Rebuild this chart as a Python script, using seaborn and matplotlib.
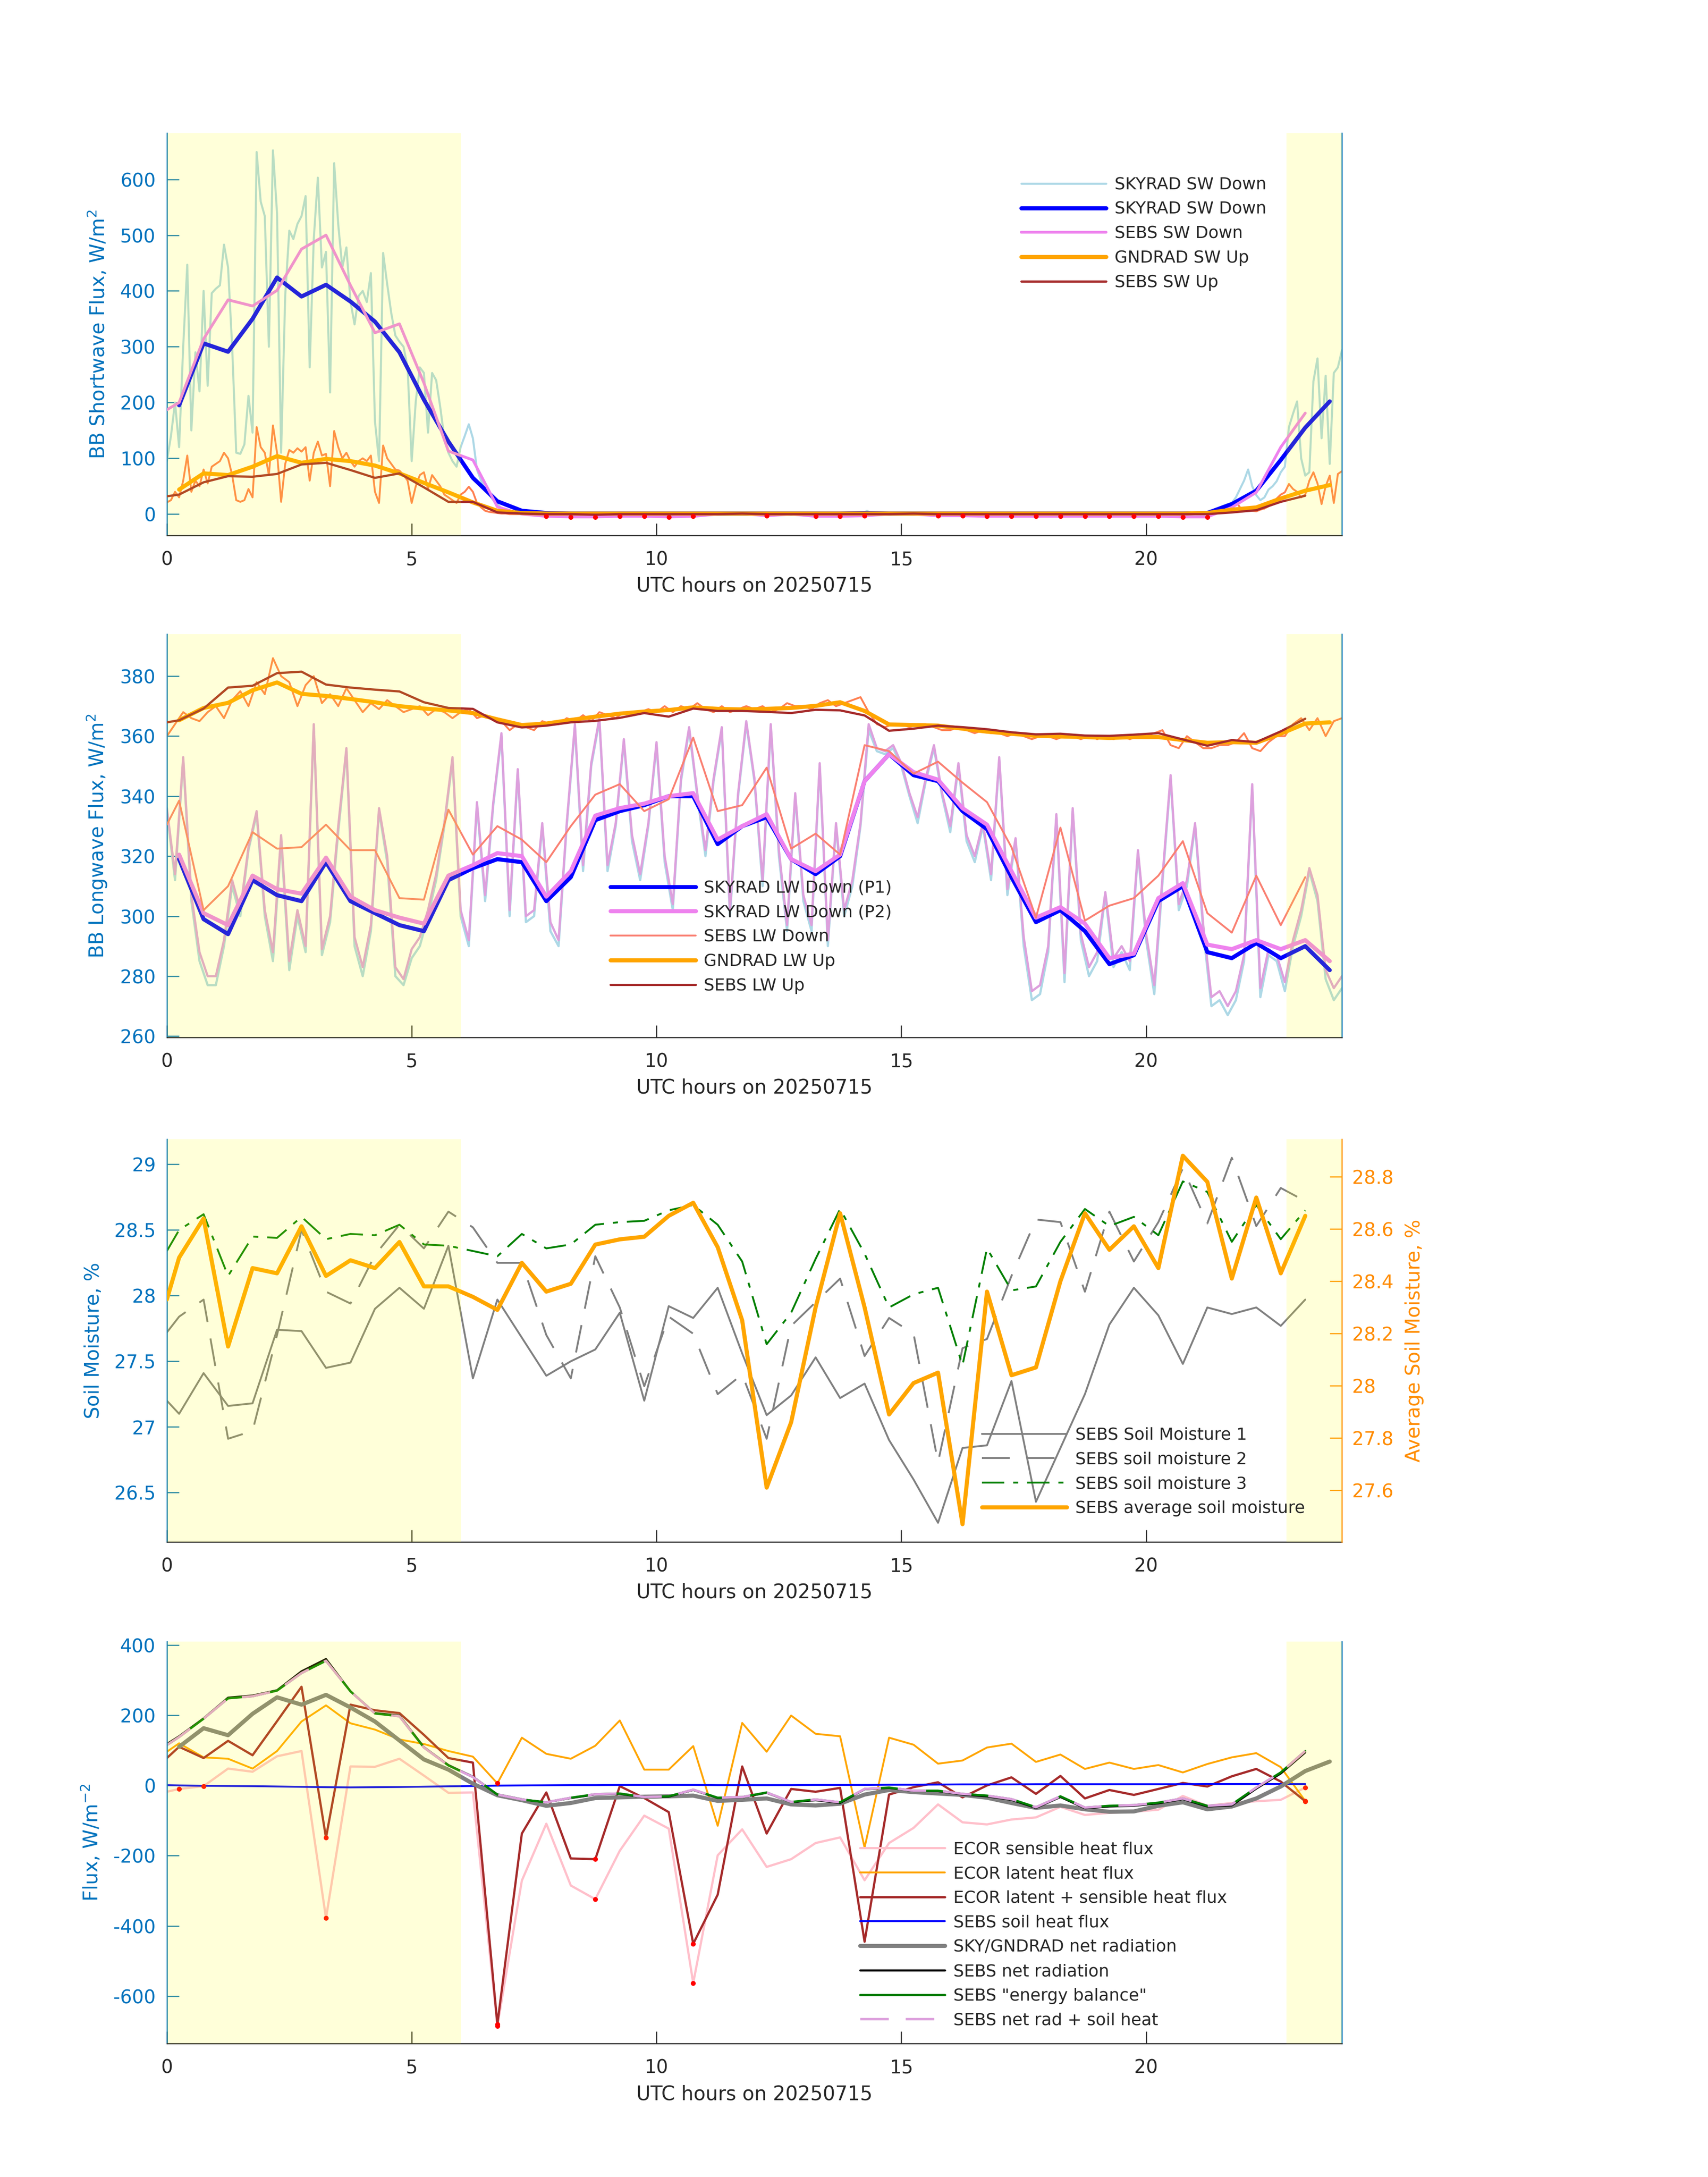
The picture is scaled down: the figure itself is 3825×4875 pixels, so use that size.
import numpy as np
import pandas as pd
import matplotlib
matplotlib.use('Agg')
import matplotlib.pyplot as plt
from matplotlib.ticker import FuncFormatter
import seaborn as sns

sns.set_style('white')
plt.rcParams['font.family'] = ['DejaVu Sans']
plt.rcParams['axes.unicode_minus'] = False
plt.rcParams['mathtext.fontset'] = 'dejavusans'

AX_BLUE = '#0072BD'
DARK = '#262626'
ORANGE_AX = '#ff8c00'
SHADE = [(0, 6), (22.87, 24)]
XLABEL = 'UTC hours on 20250715'

# sampling grids
t_half = np.arange(0.25, 24, 0.5)                  # 0.25 ... 23.75
t_sebs = np.r_[0, np.arange(0.25, 23.5, 0.5)]      # 0, 0.25 ... 23.25
t_am = np.linspace(0, 7, 85)                       # 5 min, morning
t_pm = np.linspace(21, 24, 37)                     # 5 min, evening
t_10 = np.linspace(0, 24, 145)                     # 10 min

# ---------------- panel 1 : shortwave ----------------
sky_sw_am = [95, 140, 200, 120, 300, 447, 150, 290, 220, 400, 230, 396,
             404, 410, 483, 442, 300, 110, 108, 125, 212, 146, 649, 560,
             534, 300, 652, 539, 110, 391, 508, 493, 520, 534, 570, 263,
             493, 603, 442, 470, 218, 629, 519, 442, 478, 381, 340, 391,
             400, 380, 432, 166, 95, 468, 412, 360, 320, 309, 300, 263,
             95, 202, 263, 253, 146, 253, 240, 192, 136, 110, 95, 85,
             120, 140, 161, 136, 80, 60, 45, 34, 25, 18, 11, 6,
             3]
night_t = [7.5, 9, 11, 12.5, 14.2, 14.3, 14.4, 16, 18, 20, 20.9]
sky_sw_night = [1, 0, 1, 1, 1, 6, 1, 0, 0, 0, 0]
sky_sw_pm = [0, 1, 2, 4, 6, 8, 12, 15, 18, 20, 30, 45,
             60, 80, 50, 34, 25, 30, 44, 50, 59, 75, 85, 156,
             180, 202, 100, 69, 75, 238, 279, 136, 248, 90, 253, 263,
             294]
gnd_sw_am = [21, 25, 40, 30, 60, 105, 40, 60, 50, 80, 55, 85,
             90, 95, 110, 100, 70, 25, 22, 25, 45, 30, 156, 120,
             110, 70, 159, 110, 22, 90, 115, 110, 118, 112, 120, 60,
             110, 130, 105, 108, 50, 149, 120, 100, 110, 95, 85, 95,
             100, 95, 105, 40, 20, 123, 100, 90, 80, 78, 70, 60,
             20, 50, 70, 75, 45, 70, 60, 50, 35, 30, 25, 20,
             35, 40, 49, 40, 20, 12, 6, 4, 3, 2, 1, 1,
             0]
gnd_sw_night = [0, 0, 0, 0, 0, 1, 0, 0, 0, 0, 0]
gnd_sw_pm = [0, 0, 1, 1, 2, 2, 3, 4, 8, 15, 23, 12,
             10, 8, 6, 5, 8, 10, 14, 20, 28, 35, 39, 54,
             45, 40, 30, 35, 60, 75, 55, 18, 50, 69, 20, 72,
             77]
sky_sw_30 = [195, 306, 291, 350, 424, 390, 411, 381,
             345, 290, 205, 130, 65, 23, 6, 2,
             1, 1, 1, 1, 1, 1, 1, 1,
             1, 1, 1, 1, 2, 1, 1, 1,
             1, 1, 1, 1, 1, 1, 1, 1,
             1, 1, 2, 18, 42, 97, 155, 202]
sebs_sw_dn = [187,
              200, 314, 384, 373, 401, 475, 500, 410,
              325, 341, 235, 113, 97, 13, 0, -4,
              -5, -5, -4, -4, -5, -4, 0, 1,
              -3, 0, -4, -4, -3, 0, 0, -3,
              -3, -4, -4, -4, -4, -4, -4, -4,
              -4, -5, -5, 12, 39, 120, 181]
gnd_sw_30 = [44, 73, 70, 85, 104, 92, 99, 95,
             87, 73, 56, 39, 21, 6, 2, 1,
             1, 1, 1, 1, 1, 1, 1, 1,
             1, 1, 1, 1, 1, 1, 1, 1,
             1, 1, 1, 1, 1, 1, 1, 1,
             1, 1, 2, 8, 12, 28, 42, 52]
sebs_sw_up = [32,
              35, 57, 68, 67, 72, 89, 92, 79,
              65, 73, 48, 22, 22, 3, 1, 0,
              0, -1, 0, 0, 0, 0, 0, 1,
              0, 0, 0, 0, 0, 0, 1, 0,
              0, 0, 0, 0, 0, 0, 0, 0,
              0, 0, 0, 3, 7, 22, 33]

# ---------------- panel 2 : longwave ----------------
sky_lw_p1_10 = [335, 312, 352, 305, 285, 277,
                277, 290, 310, 300, 322, 334,
                300, 285, 325, 282, 300, 288,
                363, 287, 298, 328, 355, 290,
                280, 295, 335, 318, 280, 277,
                286, 290, 300, 312, 330, 352,
                300, 290, 337, 305, 337, 360,
                300, 348, 298, 300, 330, 295,
                290, 330, 363, 315, 350, 365,
                315, 330, 358, 325, 312, 330,
                357, 318, 302, 345, 362, 340,
                320, 345, 362, 300, 340, 364,
                345, 310, 363, 320, 295, 340,
                305, 295, 350, 290, 330, 300,
                310, 330, 362, 355, 354, 356,
                350, 340, 331, 345, 356, 340,
                328, 350, 325, 318, 330, 312,
                352, 307, 325, 290, 272, 274,
                288, 333, 278, 335, 292, 280,
                285, 307, 283, 288, 282, 321,
                292, 274, 311, 346, 302, 310,
                330, 295, 270, 272, 267, 272,
                285, 343, 273, 287, 285, 275,
                290, 300, 315, 305, 279, 272,
                276]
sky_lw_p2_10 = [336, 314, 353, 307, 288, 280,
                280, 292, 312, 302, 323, 335,
                302, 288, 327, 285, 302, 290,
                364, 289, 300, 330, 356, 293,
                283, 297, 336, 320, 283, 279,
                289, 293, 302, 314, 331, 353,
                302, 292, 338, 307, 338, 361,
                302, 349, 300, 302, 331, 298,
                292, 331, 364, 317, 351, 366,
                317, 331, 359, 327, 314, 331,
                358, 320, 304, 346, 363, 341,
                322, 346, 363, 302, 341, 365,
                346, 312, 364, 322, 297, 341,
                307, 297, 351, 292, 331, 302,
                312, 331, 364, 356, 355, 357,
                351, 341, 333, 346, 357, 341,
                330, 351, 327, 320, 331, 314,
                353, 309, 326, 293, 275, 277,
                290, 334, 281, 336, 294, 283,
                288, 308, 286, 290, 285, 322,
                294, 277, 313, 347, 304, 312,
                331, 297, 273, 275, 270, 275,
                287, 344, 276, 289, 287, 278,
                292, 302, 316, 307, 282, 276,
                280]
gnd_lw_10 = [360, 364, 368, 366, 365, 368,
             370, 366, 372, 375, 370, 378,
             374, 386, 380, 378, 370, 377,
             380, 371, 374, 370, 376, 372,
             368, 371, 369, 372, 370, 368,
             369, 370, 367, 369, 368, 366,
             368, 369, 366, 367, 366, 365,
             362, 364, 363, 362, 365, 364,
             364, 366, 365, 367, 365, 368,
             367, 366, 368, 367, 368, 369,
             368, 370, 368, 370, 369, 371,
             369, 368, 370, 368, 369, 370,
             369, 370, 368, 369, 371, 370,
             370, 369, 371, 372, 370, 371,
             372, 373, 368, 364, 363, 364,
             364, 363, 364, 364, 363, 362,
             362, 363, 362, 361, 362, 361,
             361, 360, 361, 360, 359, 360,
             360, 359, 360, 360, 359, 360,
             359, 360, 359, 360, 359, 360,
             360, 361, 362, 357, 356, 360,
             358, 356, 356, 357, 357, 358,
             361, 356, 355, 358, 360, 360,
             364, 366, 362, 366, 360, 365,
             366]
sky_lw_p1 = [319, 299, 294, 312, 307, 305, 318, 305,
             301, 297, 295, 312, 316, 319, 318, 305,
             313, 332, 335, 337, 340, 340, 324, 330,
             333, 319, 314, 320, 345, 354, 347, 345,
             335, 329, 313, 298, 302, 295, 284, 287,
             305, 310, 288, 286, 291, 286, 290, 282]
sky_lw_p2 = [320.5, 301, 297, 313.5, 309, 307.5, 319.5, 306.5,
             302, 299.5, 297.5, 313.5, 317, 321, 320, 306.5,
             315, 333.5, 336, 337.5, 340, 341, 325.5, 330,
             334, 319, 315, 320.5, 345, 354, 348, 345.5,
             336, 330.5, 315, 299.5, 303, 297.5, 286, 287.5,
             306, 311, 290.5, 289, 292, 289, 292, 285]
sebs_lw_dn = [330.5,
              338.5, 302, 310, 328, 322.5, 323, 330.5, 322,
              322, 306, 305.5, 335.5, 320.5, 330, 325.5, 318,
              330, 340.5, 344, 335, 339, 359.5, 335, 337,
              349.5, 322.5, 327.5, 320.5, 357, 355, 347.5, 351.5,
              344.5, 338, 323, 299.5, 329.5, 298.5, 303.5, 306,
              313.5, 325, 301, 294.5, 313.5, 297, 313]
gnd_lw_30 = [365.3, 369.4, 371.1, 375.3, 377.9, 374.1, 373.4, 372.4,
             371.3, 370.0, 369.2, 368.6, 367.7, 365.6, 363.7, 364.2,
             365.4, 366.5, 367.5, 368.2, 368.7, 369.6, 369.1, 368.9,
             369.1, 369.4, 370.1, 371.3, 368.4, 363.9, 363.7, 363.5,
             362.5, 361.5, 360.8, 360.1, 359.9, 359.7, 359.4, 359.7,
             359.7, 358.7, 357.8, 358.0, 357.8, 360.8, 364.2, 364.6]
sebs_lw_up = [364.6,
              365.3, 369.2, 376.2, 376.8, 381.0, 381.5, 377.2, 376.2,
              375.5, 374.9, 371.3, 369.4, 369.1, 364.6, 362.9, 363.5,
              364.6, 365.1, 366.1, 367.7, 366.5, 369.2, 368.4, 368.4,
              368.1, 367.7, 368.8, 368.6, 366.9, 361.8, 362.5, 363.5,
              363.0, 362.3, 361.3, 360.6, 360.8, 360.2, 360.1, 360.5,
              361.0, 358.9, 356.8, 358.7, 358.0, 361.6, 365.8]

# ---------------- panel 3 : soil moisture ----------------
sm1 = [27.20,
       27.10, 27.41, 27.16, 27.18, 27.74, 27.73, 27.45, 27.49,
       27.90, 28.06, 27.90, 28.38, 27.37, 27.97, 27.68, 27.39,
       27.50, 27.59, 27.87, 27.20, 27.92, 27.83, 28.06, 27.56,
       27.09, 27.24, 27.53, 27.22, 27.33, 26.90, 26.60, 26.27,
       26.84, 26.86, 27.35, 26.43, 26.84, 27.25, 27.78, 28.06,
       27.85, 27.48, 27.91, 27.86, 27.91, 27.77, 27.97]
sm2 = [27.72,
       27.84, 27.97, 26.91, 26.97, 27.70, 28.50, 28.03, 27.94,
       28.31, 28.54, 28.36, 28.64, 28.52, 28.25, 28.25, 27.70,
       27.37, 28.30, 27.91, 27.31, 27.84, 27.71, 27.25, 27.40,
       26.91, 27.77, 27.95, 28.13, 27.54, 27.83, 27.71, 26.73,
       27.60, 27.67, 28.15, 28.58, 28.56, 28.03, 28.64, 28.26,
       28.56, 28.97, 28.55, 29.05, 28.53, 28.82, 28.72]
sm3 = [28.34,
       28.50, 28.62, 28.15, 28.45, 28.44, 28.60, 28.43, 28.47,
       28.46, 28.54, 28.39, 28.38, 28.34, 28.30, 28.47, 28.36,
       28.39, 28.54, 28.56, 28.57, 28.65, 28.69, 28.54, 28.26,
       27.63, 27.87, 28.28, 28.66, 28.32, 27.91, 28.01, 28.06,
       27.47, 28.36, 28.04, 28.07, 28.41, 28.66, 28.53, 28.60,
       28.46, 28.87, 28.79, 28.41, 28.69, 28.43, 28.65]
sm_avg = [28.33,
          28.49, 28.64, 28.15, 28.45, 28.43, 28.61, 28.42, 28.48,
          28.45, 28.55, 28.38, 28.38, 28.34, 28.29, 28.47, 28.36,
          28.39, 28.54, 28.56, 28.57, 28.65, 28.70, 28.53, 28.25,
          27.61, 27.86, 28.30, 28.66, 28.30, 27.89, 28.01, 28.05,
          27.47, 28.36, 28.04, 28.07, 28.40, 28.66, 28.52, 28.61,
          28.45, 28.88, 28.78, 28.41, 28.72, 28.43, 28.65]

# ---------------- panel 4 : surface fluxes ----------------
ecor_h = [-18,
          -10, -2, 48, 39, 83, 98, -378, 54,
          53, 76, 28, -21, -20, -685, -271, -109,
          -285, -324, -186, -86, -123, -563, -199, -125,
          -232, -210, -164, -148, -270, -164, -121, -54,
          -105, -111, -97, -91, -61, -84, -78, -75,
          -69, -30, -58, -50, -45, -41, -6]
ecor_le = [96,
           120, 80, 76, 48, 98, 182, 228, 177,
           159, 131, 118, 98, 82, 6, 136, 90,
           76, 113, 185, 45, 45, 112, -115, 178,
           96, 199, 147, 140, -177, 136, 116, 62,
           71, 108, 119, 67, 88, 47, 65, 47,
           58, 37, 61, 80, 92, 52, -44]
ecor_sum = [78,
            110, 78, 127, 86, 183, 281, -149, 230,
            214, 206, 144, 78, 65, -680, -137, -20,
            -208, -210, -2, -36, -76, -451, -311, 54,
            -137, -10, -18, -7, -445, -26, -5, 9,
            -34, 0, 23, -24, 27, -37, -13, -27,
            -10, 7, -3, 26, 47, 11, -45]
soil_g = [1,
          0, -1, -1.5, -2, -3, -4, -5, -5.5,
          -5, -4.5, -3.5, -2.5, -1.5, -0.5, 0, 0.5,
          1, 1, 1.5, 1.5, 1.5, 1.5, 1, 1,
          1, 1, 1.5, 1.5, 1.5, 2, 2, 2.5,
          3, 3, 3, 3.5, 3.5, 3.5, 3.5, 3.5,
          3.5, 3.5, 4, 4, 4, 4, 4]
net_rad = [110, 163, 143, 204, 251, 230, 258, 222,
           182, 128, 74, 45, 5, -28, -42, -58,
           -50, -36, -34, -32, -31, -29, -44, -41,
           -37, -54, -57, -52, -26, -13, -19, -23,
           -27, -35, -50, -64, -57, -68, -75, -74,
           -58, -48, -68, -60, -37, -3, 41, 68]
sebs_rn = [118,
           140, 191, 250, 256, 271, 325, 360, 268,
           206, 199, 109, 58, 25, -26, -40, -48,
           -36, -26, -24, -34, -32, -13, -36, -34,
           -21, -48, -42, -50, -11, -7, -16, -16,
           -26, -31, -41, -64, -33, -65, -60, -58,
           -51, -39, -60, -57, -9, 34, 94]
sebs_eb = [115,
           138, 190, 248, 254, 270, 320, 355, 268,
           205, 197, 108, 57, 24, -26, -40, -48,
           -35, -25, -23, -33, -31, -12, -35, -33,
           -20, -47, -40, -48, -10, -6, -15, -15,
           -24, -29, -39, -62, -31, -63, -58, -56,
           -49, -37, -58, -54, -6, 37, 98]
sebs_rn_g = [115,
             138, 190, 248, 254, 270, 320, 355, 268,
             205, 197, 108, 57, 24, -26, -40, -48,
             -35, -25, -23, -33, -31, -12, -35, -33,
             -20, -47, -40, -48, -10, -6, -15, -15,
             -24, -29, -39, -62, -31, -63, -58, -56,
             -49, -37, -58, -54, -6, 37, 98]
flag_h_t = [0.25, 0.75, 3.25, 6.75, 8.75, 10.75, 23.25]
flag_sum_t = [3.25, 6.75, 8.75, 10.75, 23.25]
flag_le_t = [6.75, 23.25]


def line(ax, x, y, color, lw, label=None, ls='-', z=2):
    df = pd.DataFrame({'t': x, 'v': y})
    kw = {} if label is None else {'label': label}
    sns.lineplot(data=df, x='t', y='v', ax=ax, color=color, linewidth=lw,
                 linestyle=ls, estimator=None, errorbar=None, sort=False,
                 zorder=z, **kw)
    return ax.lines[-1]


def dots(ax, x, y, mask):
    df = pd.DataFrame({'t': x, 'v': y})
    df = df[mask(df)]
    sns.scatterplot(data=df, x='t', y='v', ax=ax, color='red', s=7,
                    linewidth=0, zorder=6, legend=False)


def style(ax, ylim, yticks, ylabel, right_color=AX_BLUE, shade=True):
    ax.set_xlim(0, 24)
    ax.set_ylim(*ylim)
    ax.set_xticks([0, 5, 10, 15, 20])
    ax.set_yticks(yticks)
    ax.yaxis.set_major_formatter(FuncFormatter(lambda v, p: f'{v:g}'))
    ax.spines['top'].set_visible(False)
    ax.spines['left'].set_color(AX_BLUE)
    ax.spines['right'].set_color(right_color)
    ax.spines['bottom'].set_color(DARK)
    for s in ax.spines.values():
        s.set_linewidth(0.6)
    ax.tick_params(axis='x', direction='in', length=6.5, width=0.6, colors=DARK,
                   labelsize=10, pad=8, bottom=True, top=False)
    ax.tick_params(axis='y', direction='in', length=6.5, width=0.6, colors=AX_BLUE,
                   labelsize=10, pad=6, left=True, right=False)
    ax.set_xlabel(XLABEL, fontsize=10.5, color=DARK, labelpad=4)
    ax.set_ylabel(ylabel, fontsize=10.5, color=AX_BLUE, labelpad=6)
    ax.grid(False)
    if shade:
        for a, b in SHADE:
            ax.axvspan(a, b, color='yellow', alpha=0.15, lw=0, zorder=10)


def legend(ax, handles, xy):
    leg = ax.legend(handles=handles, labels=[h.get_label() for h in handles],
                    loc='upper left', bbox_to_anchor=xy, frameon=False, fontsize=9,
                    handlelength=5.07, handletextpad=0.5, labelspacing=0.5,
                    borderpad=0, borderaxespad=0)
    leg.set_zorder(20)


fig = plt.figure(figsize=(12.75, 16.25), dpi=300)
L, W = 0.0977, 0.688
ax1 = fig.add_axes([L, 0.7541, W, 0.1848])
ax2 = fig.add_axes([L, 0.5235, W, 0.1852])
ax3 = fig.add_axes([L, 0.2917, W, 0.1851])
ax4 = fig.add_axes([L, 0.0613, W, 0.1847])

# panel 1
h1 = line(ax1, np.r_[t_am, night_t, t_pm], sky_sw_am + sky_sw_night + sky_sw_pm,
          'lightblue', 1.1, 'SKYRAD SW Down')
line(ax1, np.r_[t_am, night_t, t_pm], gnd_sw_am + gnd_sw_night + gnd_sw_pm, 'coral', 1.0)
h2 = line(ax1, t_half, sky_sw_30, 'blue', 2.2, 'SKYRAD SW Down', z=3)
h3 = line(ax1, t_sebs, sebs_sw_dn, 'violet', 1.5, 'SEBS SW Down', z=3)
h4 = line(ax1, t_half, gnd_sw_30, 'orange', 2.2, 'GNDRAD SW Up', z=3)
h5 = line(ax1, t_sebs, sebs_sw_up, 'brown', 1.2, 'SEBS SW Up', z=3)
dots(ax1, t_sebs, sebs_sw_dn, lambda d: d['v'] < 0)
style(ax1, (-38, 683), range(0, 601, 100), 'BB Shortwave Flux, W/m$^2$')
legend(ax1, [h1, h2, h3, h4, h5], (0.727, 0.891))

# panel 2
line(ax2, t_10, sky_lw_p1_10, 'lightblue', 1.2)
line(ax2, t_10, sky_lw_p2_10, 'plum', 1.2)
line(ax2, t_10, gnd_lw_10, 'coral', 1.0)
g1 = line(ax2, t_half, sky_lw_p1, 'blue', 2.2, 'SKYRAD LW Down (P1)', z=3)
g2 = line(ax2, t_half, sky_lw_p2, 'violet', 2.2, 'SKYRAD LW Down (P2)', z=3)
g3 = line(ax2, t_sebs, sebs_lw_dn, 'salmon', 1.0, 'SEBS LW Down', z=3)
g4 = line(ax2, t_half, gnd_lw_30, 'orange', 2.2, 'GNDRAD LW Up', z=3)
g5 = line(ax2, t_sebs, sebs_lw_up, 'brown', 1.2, 'SEBS LW Up', z=3)
style(ax2, (259.6, 394), range(260, 381, 20), 'BB Longwave Flux, W/m$^2$')
legend(ax2, [g1, g2, g3, g4, g5], (0.3776, 0.390))

# panel 3 (shading drawn once, on the right-hand axes so it covers both)
ax3r = ax3.twinx()
s1 = line(ax3, t_sebs, sm1, 'gray', 1.0, 'SEBS Soil Moisture 1')
s2 = line(ax3, t_sebs, sm2, 'gray', 1.0, 'SEBS soil moisture 2', ls=(0, (15, 9)))
s3 = line(ax3, t_sebs, sm3, 'green', 1.0, 'SEBS soil moisture 3', ls=(0, (12, 4.8, 2.7, 4.8)))
s4 = line(ax3r, t_sebs, sm_avg, 'orange', 2.2, 'SEBS average soil moisture')
style(ax3, (26.124, 29.193), [26.5, 27, 27.5, 28, 28.5, 29], 'Soil Moisture, %', shade=False)
ax3.spines['right'].set_visible(False)
if ax3.get_legend() is not None:
    ax3.get_legend().remove()
ax3r.set_xlim(0, 24)
ax3r.set_ylim(27.402, 28.944)
ax3r.set_yticks([27.6, 27.8, 28, 28.2, 28.4, 28.6, 28.8])
ax3r.yaxis.set_major_formatter(FuncFormatter(lambda v, p: f'{v:g}'))
for k in ['top', 'left', 'bottom']:
    ax3r.spines[k].set_visible(False)
ax3r.spines['right'].set_color(ORANGE_AX)
ax3r.spines['right'].set_linewidth(0.6)
ax3r.tick_params(axis='y', direction='in', length=6.5, width=0.6, colors=ORANGE_AX,
                 labelsize=10, pad=5.5, right=True, left=False)
ax3r.set_ylabel('Average Soil Moisture, %', fontsize=10.5, color=ORANGE_AX, labelpad=6)
ax3r.set_xlabel('')
ax3r.grid(False)
for a, b in SHADE:
    ax3r.axvspan(a, b, color='yellow', alpha=0.15, lw=0, zorder=10)
legend(ax3r, [s1, s2, s3, s4], (0.6935, 0.285))

# panel 4
f1 = line(ax4, t_sebs, ecor_h, 'pink', 1.2, 'ECOR sensible heat flux')
f2 = line(ax4, t_sebs, ecor_le, 'orange', 1.0, 'ECOR latent heat flux')
f3 = line(ax4, t_sebs, ecor_sum, 'brown', 1.2, 'ECOR latent + sensible heat flux')
f4 = line(ax4, t_sebs, soil_g, 'blue', 1.0, 'SEBS soil heat flux')
f5 = line(ax4, t_half, net_rad, 'gray', 2.2, 'SKY/GNDRAD net radiation')
f6 = line(ax4, t_sebs, sebs_rn, 'black', 1.1, 'SEBS net radiation')
f7 = line(ax4, t_sebs, sebs_eb, 'green', 1.2, 'SEBS "energy balance"')
f8 = line(ax4, t_sebs, sebs_rn_g, 'plum', 1.3, 'SEBS net rad + soil heat', ls=(0, (11.8, 7)))
dots(ax4, t_sebs, ecor_h, lambda d: d['t'].isin(flag_h_t))
dots(ax4, t_sebs, ecor_sum, lambda d: d['t'].isin(flag_sum_t))
dots(ax4, t_sebs, ecor_le, lambda d: d['t'].isin(flag_le_t))
style(ax4, (-735, 410), range(-600, 401, 200), 'Flux, W/m$^{-2}$')
legend(ax4, [f1, f2, f3, f4, f5, f6, f7, f8], (0.590, 0.503))

fig.savefig('out.png', dpi=300, facecolor='white')
